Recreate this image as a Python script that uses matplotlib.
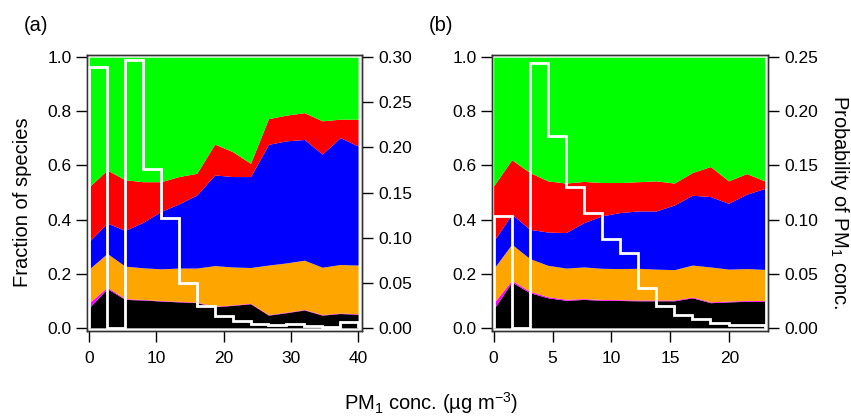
"""
Stacked species fractions vs PM1 concentration, with PM1 probability histogram.
Output: out.png
"""
import matplotlib
matplotlib.use("Agg")
import matplotlib.pyplot as plt
import numpy as np

plt.rcParams.update({
    "font.family":       ["Liberation Sans", "DejaVu Sans"],
    "font.size":         12.5,
    "mathtext.default":  "regular",
    "xtick.direction":   "out",
    "ytick.direction":   "out",
    "xtick.major.size":  8,
    "ytick.major.size":  8,
    "xtick.major.width": 1.0,
    "ytick.major.width": 1.0,
    "xtick.major.pad":   6,
    "ytick.major.pad":   3,
    "xtick.labelsize":   12.5,
    "ytick.labelsize":   12.5,
})

COLORS = {
    "black":   "#000000",
    "magenta": "#FF00FF",
    "orange":  "#FFA500",
    "blue":    "#0000FF",
    "red":     "#FF0000",
    "green":   "#00FF00",
}

# Panel (a): cumulative layer tops (fraction), 16 points over 0-40
a_conc = np.linspace(0, 40, 16)
a_black = [0.075, 0.145, 0.105, 0.103, 0.099, 0.096, 0.093, 0.078,
           0.083, 0.089, 0.047, 0.056, 0.066, 0.047, 0.053, 0.050]
a_magenta = [0.093, 0.150, 0.108, 0.105, 0.101, 0.098, 0.095, 0.080,
             0.085, 0.091, 0.049, 0.058, 0.068, 0.049, 0.055, 0.052]
a_orange = [0.218, 0.275, 0.228, 0.222, 0.218, 0.221, 0.221, 0.230,
            0.225, 0.223, 0.232, 0.240, 0.250, 0.224, 0.234, 0.232]
a_blue = [0.320, 0.387, 0.360, 0.390, 0.430, 0.458, 0.491, 0.565,
          0.559, 0.559, 0.678, 0.691, 0.696, 0.642, 0.703, 0.672]
a_red = [0.522, 0.583, 0.547, 0.540, 0.540, 0.559, 0.571, 0.679,
         0.651, 0.608, 0.773, 0.786, 0.795, 0.765, 0.771, 0.771]
a_prob = [0.289, 0.000, 0.297, 0.176, 0.122, 0.050, 0.024, 0.013,
          0.008, 0.004, 0.003, 0.004, 0.0015, 0.001, 0.006]

# Panel (b): cumulative layer tops (fraction), 16 points over 0-23
b_conc = np.linspace(0, 23, 16)
b_black = [0.070, 0.169, 0.130, 0.111, 0.102, 0.105, 0.102, 0.101,
           0.100, 0.100, 0.100, 0.111, 0.093, 0.096, 0.098, 0.098]
b_magenta = [0.092, 0.175, 0.135, 0.115, 0.106, 0.108, 0.105, 0.104,
             0.103, 0.103, 0.103, 0.114, 0.096, 0.099, 0.101, 0.101]
b_orange = [0.219, 0.309, 0.256, 0.231, 0.221, 0.225, 0.220, 0.219,
            0.220, 0.217, 0.215, 0.232, 0.225, 0.217, 0.219, 0.216]
b_blue = [0.321, 0.420, 0.364, 0.354, 0.352, 0.389, 0.414, 0.426,
          0.432, 0.432, 0.454, 0.490, 0.485, 0.460, 0.494, 0.515]
b_red = [0.525, 0.621, 0.574, 0.543, 0.535, 0.541, 0.537, 0.537,
         0.540, 0.543, 0.535, 0.574, 0.596, 0.543, 0.570, 0.543]
b_prob = [0.103, 0.000, 0.245, 0.177, 0.130, 0.106, 0.082, 0.069,
          0.037, 0.020, 0.012, 0.008, 0.0046, 0.003, 0.003]

panels = [
    dict(conc=a_conc, tops=[a_black, a_magenta, a_orange, a_blue, a_red],
         prob=a_prob, pmax=0.30, xlim=(-0.3, 40.6), xticks=[0, 10, 20, 30, 40],
         pos=[0.1025, 0.206, 0.323, 0.662], tag="(a)", tag_x=0.042),
    dict(conc=b_conc, tops=[b_black, b_magenta, b_orange, b_blue, b_red],
         prob=b_prob, pmax=0.25, xlim=(-0.15, 23.25), xticks=[0, 5, 10, 15, 20],
         pos=[0.578, 0.206, 0.324, 0.662], tag="(b)", tag_x=0.518),
]

layer_colors = [COLORS["black"], COLORS["magenta"], COLORS["orange"],
                COLORS["blue"], COLORS["red"], COLORS["green"]]

fig = plt.figure(figsize=(8.51, 4.17), dpi=100)
ylo, yhi = -0.012, 1.008

for p in panels:
    ax = fig.add_axes(p["pos"])
    x = p["conc"]
    lower = np.zeros(len(x))
    for top, col in zip(p["tops"] + [np.ones(len(x))], layer_colors):
        top = np.asarray(top)
        ax.fill_between(x, lower, top, color=col, linewidth=0)
        lower = top

    ax.set_xlim(*p["xlim"])
    ax.set_ylim(ylo, yhi)
    ax.set_xticks(p["xticks"])
    ax.set_yticks(np.arange(0, 1.01, 0.2))
    ax.yaxis.set_major_formatter(matplotlib.ticker.FormatStrFormatter("%.1f"))

    ax2 = ax.twinx()
    edges = np.linspace(x[0], x[-1], len(p["prob"]) + 1)
    ax2.stairs(p["prob"], edges, baseline=0, color="white", linewidth=2.0)
    ax2.set_ylim(ylo * p["pmax"], yhi * p["pmax"])
    ax2.set_yticks(np.arange(0, p["pmax"] + 0.001, 0.05))
    ax2.yaxis.set_major_formatter(matplotlib.ticker.FormatStrFormatter("%.2f"))
    ax2.tick_params(axis="y", pad=4)

    for a in (ax, ax2):
        for s in a.spines.values():
            s.set_color("#333333")
            s.set_linewidth(1.0)

    fig.text(p["tag_x"], 0.938, p["tag"], ha="center", va="center", fontsize=14.5)

fig.text(0.026, 0.516, "Fraction of species", rotation=90,
         ha="center", va="center", fontsize=14.5)
fig.text(0.987, 0.516, "Probability of PM$_1$ conc.", rotation=-90,
         ha="center", va="center", fontsize=14.5)
fig.text(0.506, 0.034, "PM$_1$ conc. (µg m$^{-3}$)",
         ha="center", va="center", fontsize=14.5)

fig.savefig("out.png", dpi=100)
plt.close(fig)
